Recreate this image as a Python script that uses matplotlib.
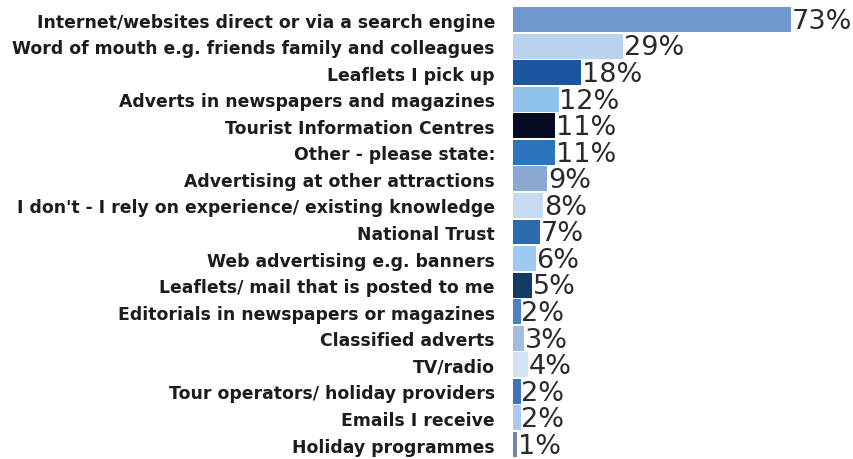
import matplotlib
matplotlib.use('Agg')
import matplotlib.pyplot as plt

plt.rcParams['font.family'] = ['DejaVu Sans']

sources = [
    'Internet/websites direct or via a search engine',
    'Word of mouth e.g. friends family and colleagues',
    'Leaflets I pick up',
    'Adverts in newspapers and magazines',
    'Tourist Information Centres',
    'Other - please state:',
    'Advertising at other attractions',
    "I don't - I rely on experience/ existing knowledge",
    'National Trust',
    'Web advertising e.g. banners',
    'Leaflets/ mail that is posted to me',
    'Editorials in newspapers or magazines',
    'Classified adverts',
    'TV/radio',
    'Tour operators/ holiday providers',
    'Emails I receive',
    'Holiday programmes',
]
percent = [73, 29, 18, 12, 11, 11, 9, 8, 7, 6, 5, 2, 3, 4, 2, 2, 1]
bar_colors = [
    '#6f98cc', '#b9d3ee', '#1d56a0', '#8ec2ec', '#060b24', '#2b75bd',
    '#8aa8d2', '#c6dbf1', '#2c6cae', '#9ccaf0', '#123a66', '#4c82c2',
    '#a3bde0', '#d3e5f5', '#4272b8', '#aac9ec', '#6f88a8',
]

fig = plt.figure(figsize=(8.54, 4.60), dpi=100)
ax = fig.add_axes([0.6007, 0.0026, 0.3993, 0.9817])

ypos = list(range(len(sources)))
ax.barh(ypos, percent, height=0.94, color=bar_colors, edgecolor='none')

# percentage labels just past the end of each bar
for y, v in zip(ypos, percent):
    ax.text(v + 0.2, y + 0.05, f'{v}%', va='center', ha='left',
            fontsize=19.5, color='#2a2a2a')

ax.set_yticks(ypos)
ax.set_yticklabels(sources, fontsize=12.4, fontweight='bold', color='#1c1c1c')
ax.tick_params(axis='y', length=0, pad=13)
ax.set_xticks([])
ax.set_xlim(0, 89.7)
ax.set_ylim(len(sources) - 0.5, -0.5)
for s in ax.spines.values():
    s.set_visible(False)

fig.savefig('out.png', dpi=100)
